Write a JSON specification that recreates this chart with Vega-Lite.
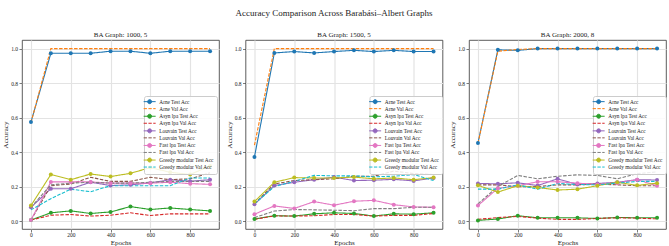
{
  "$schema": "https://vega.github.io/schema/vega-lite/v6.json",
  "padding": {"left": 1, "right": 1, "top": 8, "bottom": 0},
  "background": "white",
  "title": {"text": "Accuracy Comparison Across Barabási–Albert Graphs", "font": "Liberation Serif", "fontSize": 9, "fontWeight": "normal", "anchor": "middle", "offset": 13, "color": "#222"},
  "config": {
    "font": "Liberation Serif",
    "view": {"stroke": "#333", "strokeWidth": 0.8},
    "axis": {"labelFont": "Liberation Serif", "titleFont": "Liberation Serif", "labelFontSize": 5.5, "titleFontSize": 7, "titleFontWeight": "normal", "labelColor": "#222", "titleColor": "#222", "tickColor": "#444", "tickSize": 3, "tickWidth": 0.7, "domain": false, "gridColor": "#e3e3e3", "gridWidth": 1.2, "labelPadding": 1.5, "titlePadding": 2},
    "axisX": {"titlePadding": 0, "labelPadding": 0.5},
    "title": {"font": "Liberation Serif", "fontSize": 7, "fontWeight": "normal", "offset": 2, "color": "#222"},
    "legend": {"labelFont": "Liberation Serif"}
  },
  "spacing": 4.5,
  "resolve": {"scale": {"color": "independent"}, "legend": {"color": "independent"}},
  "datasets": {
    "p1": [
      {"s":"Arne Test Acc","e":0,"a":0.574},{"s":"Arne Test Acc","e":100,"a":0.973},{"s":"Arne Test Acc","e":200,"a":0.973},{"s":"Arne Test Acc","e":300,"a":0.973},{"s":"Arne Test Acc","e":400,"a":0.985},{"s":"Arne Test Acc","e":500,"a":0.985},{"s":"Arne Test Acc","e":600,"a":0.973},{"s":"Arne Test Acc","e":700,"a":0.985},{"s":"Arne Test Acc","e":800,"a":0.985},{"s":"Arne Test Acc","e":900,"a":0.985},
      {"s":"Arne Val Acc","e":0,"a":0.57},{"s":"Arne Val Acc","e":100,"a":1},{"s":"Arne Val Acc","e":200,"a":1},{"s":"Arne Val Acc","e":300,"a":1},{"s":"Arne Val Acc","e":400,"a":1},{"s":"Arne Val Acc","e":500,"a":1},{"s":"Arne Val Acc","e":600,"a":1},{"s":"Arne Val Acc","e":700,"a":1},{"s":"Arne Val Acc","e":800,"a":1},{"s":"Arne Val Acc","e":900,"a":1},
      {"s":"Asyn lpa Test Acc","e":0,"a":0.006},{"s":"Asyn lpa Test Acc","e":100,"a":0.048},{"s":"Asyn lpa Test Acc","e":200,"a":0.059},{"s":"Asyn lpa Test Acc","e":300,"a":0.044},{"s":"Asyn lpa Test Acc","e":400,"a":0.053},{"s":"Asyn lpa Test Acc","e":500,"a":0.084},{"s":"Asyn lpa Test Acc","e":600,"a":0.067},{"s":"Asyn lpa Test Acc","e":700,"a":0.076},{"s":"Asyn lpa Test Acc","e":800,"a":0.067},{"s":"Asyn lpa Test Acc","e":900,"a":0.059},
      {"s":"Asyn lpa Val Acc","e":0,"a":0.006},{"s":"Asyn lpa Val Acc","e":100,"a":0.034},{"s":"Asyn lpa Val Acc","e":200,"a":0.038},{"s":"Asyn lpa Val Acc","e":300,"a":0.029},{"s":"Asyn lpa Val Acc","e":400,"a":0.034},{"s":"Asyn lpa Val Acc","e":500,"a":0.048},{"s":"Asyn lpa Val Acc","e":600,"a":0.032},{"s":"Asyn lpa Val Acc","e":700,"a":0.042},{"s":"Asyn lpa Val Acc","e":800,"a":0.042},{"s":"Asyn lpa Val Acc","e":900,"a":0.042},
      {"s":"Louvain Test Acc","e":0,"a":0.08},{"s":"Louvain Test Acc","e":100,"a":0.187},{"s":"Louvain Test Acc","e":200,"a":0.187},{"s":"Louvain Test Acc","e":300,"a":0.225},{"s":"Louvain Test Acc","e":400,"a":0.206},{"s":"Louvain Test Acc","e":500,"a":0.21},{"s":"Louvain Test Acc","e":600,"a":0.221},{"s":"Louvain Test Acc","e":700,"a":0.24},{"s":"Louvain Test Acc","e":800,"a":0.231},{"s":"Louvain Test Acc","e":900,"a":0.24},
      {"s":"Louvain Val Acc","e":0,"a":0.006},{"s":"Louvain Val Acc","e":100,"a":0.205},{"s":"Louvain Val Acc","e":200,"a":0.215},{"s":"Louvain Val Acc","e":300,"a":0.254},{"s":"Louvain Val Acc","e":400,"a":0.23},{"s":"Louvain Val Acc","e":500,"a":0.23},{"s":"Louvain Val Acc","e":600,"a":0.254},{"s":"Louvain Val Acc","e":700,"a":0.24},{"s":"Louvain Val Acc","e":800,"a":0.245},{"s":"Louvain Val Acc","e":900,"a":0.28},
      {"s":"Fast lpa Test Acc","e":0,"a":0.006},{"s":"Fast lpa Test Acc","e":100,"a":0.227},{"s":"Fast lpa Test Acc","e":200,"a":0.227},{"s":"Fast lpa Test Acc","e":300,"a":0.227},{"s":"Fast lpa Test Acc","e":400,"a":0.22},{"s":"Fast lpa Test Acc","e":500,"a":0.22},{"s":"Fast lpa Test Acc","e":600,"a":0.22},{"s":"Fast lpa Test Acc","e":700,"a":0.225},{"s":"Fast lpa Test Acc","e":800,"a":0.217},{"s":"Fast lpa Test Acc","e":900,"a":0.213},
      {"s":"Fast lpa Val Acc","e":0,"a":0.08},{"s":"Fast lpa Val Acc","e":100,"a":0.21},{"s":"Fast lpa Val Acc","e":200,"a":0.22},{"s":"Fast lpa Val Acc","e":300,"a":0.225},{"s":"Fast lpa Val Acc","e":400,"a":0.22},{"s":"Fast lpa Val Acc","e":500,"a":0.22},{"s":"Fast lpa Val Acc","e":600,"a":0.225},{"s":"Fast lpa Val Acc","e":700,"a":0.23},{"s":"Fast lpa Val Acc","e":800,"a":0.23},{"s":"Fast lpa Val Acc","e":900,"a":0.23},
      {"s":"Greedy modular Test Acc","e":0,"a":0.09},{"s":"Greedy modular Test Acc","e":100,"a":0.27},{"s":"Greedy modular Test Acc","e":200,"a":0.24},{"s":"Greedy modular Test Acc","e":300,"a":0.273},{"s":"Greedy modular Test Acc","e":400,"a":0.258},{"s":"Greedy modular Test Acc","e":500,"a":0.277},{"s":"Greedy modular Test Acc","e":600,"a":0.31},{"s":"Greedy modular Test Acc","e":700,"a":0.283},{"s":"Greedy modular Test Acc","e":800,"a":0.27},{"s":"Greedy modular Test Acc","e":900,"a":0.32},
      {"s":"Greedy modular Val Acc","e":0,"a":0.065},{"s":"Greedy modular Val Acc","e":100,"a":0.13},{"s":"Greedy modular Val Acc","e":200,"a":0.185},{"s":"Greedy modular Val Acc","e":300,"a":0.17},{"s":"Greedy modular Val Acc","e":400,"a":0.205},{"s":"Greedy modular Val Acc","e":500,"a":0.205},{"s":"Greedy modular Val Acc","e":600,"a":0.205},{"s":"Greedy modular Val Acc","e":700,"a":0.205},{"s":"Greedy modular Val Acc","e":800,"a":0.25},{"s":"Greedy modular Val Acc","e":900,"a":0.25}
    ],
    "p2": [
      {"s":"Arne Test Acc","e":0,"a":0.372},{"s":"Arne Test Acc","e":100,"a":0.975},{"s":"Arne Test Acc","e":200,"a":0.983},{"s":"Arne Test Acc","e":300,"a":0.975},{"s":"Arne Test Acc","e":400,"a":0.983},{"s":"Arne Test Acc","e":500,"a":0.99},{"s":"Arne Test Acc","e":600,"a":0.983},{"s":"Arne Test Acc","e":700,"a":0.99},{"s":"Arne Test Acc","e":800,"a":0.983},{"s":"Arne Test Acc","e":900,"a":0.983},
      {"s":"Arne Val Acc","e":0,"a":0.44},{"s":"Arne Val Acc","e":100,"a":1},{"s":"Arne Val Acc","e":200,"a":1},{"s":"Arne Val Acc","e":300,"a":1},{"s":"Arne Val Acc","e":400,"a":1},{"s":"Arne Val Acc","e":500,"a":1},{"s":"Arne Val Acc","e":600,"a":1},{"s":"Arne Val Acc","e":700,"a":1},{"s":"Arne Val Acc","e":800,"a":1},{"s":"Arne Val Acc","e":900,"a":1},
      {"s":"Asyn lpa Test Acc","e":0,"a":0.012},{"s":"Asyn lpa Test Acc","e":100,"a":0.031},{"s":"Asyn lpa Test Acc","e":200,"a":0.029},{"s":"Asyn lpa Test Acc","e":300,"a":0.042},{"s":"Asyn lpa Test Acc","e":400,"a":0.048},{"s":"Asyn lpa Test Acc","e":500,"a":0.044},{"s":"Asyn lpa Test Acc","e":600,"a":0.029},{"s":"Asyn lpa Test Acc","e":700,"a":0.042},{"s":"Asyn lpa Test Acc","e":800,"a":0.04},{"s":"Asyn lpa Test Acc","e":900,"a":0.048},
      {"s":"Asyn lpa Val Acc","e":0,"a":0.01},{"s":"Asyn lpa Val Acc","e":100,"a":0.03},{"s":"Asyn lpa Val Acc","e":200,"a":0.029},{"s":"Asyn lpa Val Acc","e":300,"a":0.031},{"s":"Asyn lpa Val Acc","e":400,"a":0.038},{"s":"Asyn lpa Val Acc","e":500,"a":0.038},{"s":"Asyn lpa Val Acc","e":600,"a":0.029},{"s":"Asyn lpa Val Acc","e":700,"a":0.033},{"s":"Asyn lpa Val Acc","e":800,"a":0.033},{"s":"Asyn lpa Val Acc","e":900,"a":0.044},
      {"s":"Louvain Test Acc","e":0,"a":0.097},{"s":"Louvain Test Acc","e":100,"a":0.206},{"s":"Louvain Test Acc","e":200,"a":0.225},{"s":"Louvain Test Acc","e":300,"a":0.24},{"s":"Louvain Test Acc","e":400,"a":0.255},{"s":"Louvain Test Acc","e":500,"a":0.235},{"s":"Louvain Test Acc","e":600,"a":0.237},{"s":"Louvain Test Acc","e":700,"a":0.242},{"s":"Louvain Test Acc","e":800,"a":0.233},{"s":"Louvain Test Acc","e":900,"a":0.25},
      {"s":"Louvain Val Acc","e":0,"a":0.1},{"s":"Louvain Val Acc","e":100,"a":0.215},{"s":"Louvain Val Acc","e":200,"a":0.235},{"s":"Louvain Val Acc","e":300,"a":0.24},{"s":"Louvain Val Acc","e":400,"a":0.245},{"s":"Louvain Val Acc","e":500,"a":0.26},{"s":"Louvain Val Acc","e":600,"a":0.26},{"s":"Louvain Val Acc","e":700,"a":0.29},{"s":"Louvain Val Acc","e":800,"a":0.275},{"s":"Louvain Val Acc","e":900,"a":0.27},
      {"s":"Fast lpa Test Acc","e":0,"a":0.04},{"s":"Fast lpa Test Acc","e":100,"a":0.088},{"s":"Fast lpa Test Acc","e":200,"a":0.073},{"s":"Fast lpa Test Acc","e":300,"a":0.113},{"s":"Fast lpa Test Acc","e":400,"a":0.092},{"s":"Fast lpa Test Acc","e":500,"a":0.115},{"s":"Fast lpa Test Acc","e":600,"a":0.12},{"s":"Fast lpa Test Acc","e":700,"a":0.095},{"s":"Fast lpa Test Acc","e":800,"a":0.082},{"s":"Fast lpa Test Acc","e":900,"a":0.08},
      {"s":"Fast lpa Val Acc","e":0,"a":0.02},{"s":"Fast lpa Val Acc","e":100,"a":0.058},{"s":"Fast lpa Val Acc","e":200,"a":0.067},{"s":"Fast lpa Val Acc","e":300,"a":0.065},{"s":"Fast lpa Val Acc","e":400,"a":0.063},{"s":"Fast lpa Val Acc","e":500,"a":0.06},{"s":"Fast lpa Val Acc","e":600,"a":0.072},{"s":"Fast lpa Val Acc","e":700,"a":0.072},{"s":"Fast lpa Val Acc","e":800,"a":0.08},{"s":"Fast lpa Val Acc","e":900,"a":0.08},
      {"s":"Greedy modular Test Acc","e":0,"a":0.113},{"s":"Greedy modular Test Acc","e":100,"a":0.225},{"s":"Greedy modular Test Acc","e":200,"a":0.252},{"s":"Greedy modular Test Acc","e":300,"a":0.25},{"s":"Greedy modular Test Acc","e":400,"a":0.25},{"s":"Greedy modular Test Acc","e":500,"a":0.255},{"s":"Greedy modular Test Acc","e":600,"a":0.245},{"s":"Greedy modular Test Acc","e":700,"a":0.25},{"s":"Greedy modular Test Acc","e":800,"a":0.24},{"s":"Greedy modular Test Acc","e":900,"a":0.252},
      {"s":"Greedy modular Val Acc","e":0,"a":0.1},{"s":"Greedy modular Val Acc","e":100,"a":0.2},{"s":"Greedy modular Val Acc","e":200,"a":0.23},{"s":"Greedy modular Val Acc","e":300,"a":0.265},{"s":"Greedy modular Val Acc","e":400,"a":0.262},{"s":"Greedy modular Val Acc","e":500,"a":0.262},{"s":"Greedy modular Val Acc","e":600,"a":0.257},{"s":"Greedy modular Val Acc","e":700,"a":0.26},{"s":"Greedy modular Val Acc","e":800,"a":0.27},{"s":"Greedy modular Val Acc","e":900,"a":0.235}
    ],
    "p3": [
      {"s":"Arne Test Acc","e":0,"a":0.452},{"s":"Arne Test Acc","e":100,"a":0.993},{"s":"Arne Test Acc","e":200,"a":0.99},{"s":"Arne Test Acc","e":300,"a":1},{"s":"Arne Test Acc","e":400,"a":1},{"s":"Arne Test Acc","e":500,"a":1},{"s":"Arne Test Acc","e":600,"a":1},{"s":"Arne Test Acc","e":700,"a":1},{"s":"Arne Test Acc","e":800,"a":1},{"s":"Arne Test Acc","e":900,"a":1},
      {"s":"Arne Val Acc","e":0,"a":0.45},{"s":"Arne Val Acc","e":100,"a":0.985},{"s":"Arne Val Acc","e":200,"a":0.995},{"s":"Arne Val Acc","e":300,"a":1},{"s":"Arne Val Acc","e":400,"a":1},{"s":"Arne Val Acc","e":500,"a":1},{"s":"Arne Val Acc","e":600,"a":1},{"s":"Arne Val Acc","e":700,"a":1},{"s":"Arne Val Acc","e":800,"a":1},{"s":"Arne Val Acc","e":900,"a":1},
      {"s":"Asyn lpa Test Acc","e":0,"a":0.004},{"s":"Asyn lpa Test Acc","e":100,"a":0.012},{"s":"Asyn lpa Test Acc","e":200,"a":0.031},{"s":"Asyn lpa Test Acc","e":300,"a":0.019},{"s":"Asyn lpa Test Acc","e":400,"a":0.019},{"s":"Asyn lpa Test Acc","e":500,"a":0.019},{"s":"Asyn lpa Test Acc","e":600,"a":0.015},{"s":"Asyn lpa Test Acc","e":700,"a":0.021},{"s":"Asyn lpa Test Acc","e":800,"a":0.019},{"s":"Asyn lpa Test Acc","e":900,"a":0.019},
      {"s":"Asyn lpa Val Acc","e":0,"a":0.01},{"s":"Asyn lpa Val Acc","e":100,"a":0.02},{"s":"Asyn lpa Val Acc","e":200,"a":0.027},{"s":"Asyn lpa Val Acc","e":300,"a":0.017},{"s":"Asyn lpa Val Acc","e":400,"a":0.01},{"s":"Asyn lpa Val Acc","e":500,"a":0.01},{"s":"Asyn lpa Val Acc","e":600,"a":0.015},{"s":"Asyn lpa Val Acc","e":700,"a":0.019},{"s":"Asyn lpa Val Acc","e":800,"a":0.017},{"s":"Asyn lpa Val Acc","e":900,"a":0.013},
      {"s":"Louvain Test Acc","e":0,"a":0.218},{"s":"Louvain Test Acc","e":100,"a":0.216},{"s":"Louvain Test Acc","e":200,"a":0.222},{"s":"Louvain Test Acc","e":300,"a":0.206},{"s":"Louvain Test Acc","e":400,"a":0.245},{"s":"Louvain Test Acc","e":500,"a":0.212},{"s":"Louvain Test Acc","e":600,"a":0.218},{"s":"Louvain Test Acc","e":700,"a":0.225},{"s":"Louvain Test Acc","e":800,"a":0.24},{"s":"Louvain Test Acc","e":900,"a":0.238},
      {"s":"Louvain Val Acc","e":0,"a":0.21},{"s":"Louvain Val Acc","e":100,"a":0.21},{"s":"Louvain Val Acc","e":200,"a":0.2},{"s":"Louvain Val Acc","e":300,"a":0.2},{"s":"Louvain Val Acc","e":400,"a":0.21},{"s":"Louvain Val Acc","e":500,"a":0.21},{"s":"Louvain Val Acc","e":600,"a":0.215},{"s":"Louvain Val Acc","e":700,"a":0.21},{"s":"Louvain Val Acc","e":800,"a":0.205},{"s":"Louvain Val Acc","e":900,"a":0.205},
      {"s":"Fast lpa Test Acc","e":0,"a":0.09},{"s":"Fast lpa Test Acc","e":100,"a":0.19},{"s":"Fast lpa Test Acc","e":200,"a":0.205},{"s":"Fast lpa Test Acc","e":300,"a":0.228},{"s":"Fast lpa Test Acc","e":400,"a":0.228},{"s":"Fast lpa Test Acc","e":500,"a":0.22},{"s":"Fast lpa Test Acc","e":600,"a":0.212},{"s":"Fast lpa Test Acc","e":700,"a":0.22},{"s":"Fast lpa Test Acc","e":800,"a":0.24},{"s":"Fast lpa Test Acc","e":900,"a":0.205},
      {"s":"Fast lpa Val Acc","e":0,"a":0.1},{"s":"Fast lpa Val Acc","e":100,"a":0.2},{"s":"Fast lpa Val Acc","e":200,"a":0.265},{"s":"Fast lpa Val Acc","e":300,"a":0.245},{"s":"Fast lpa Val Acc","e":400,"a":0.26},{"s":"Fast lpa Val Acc","e":500,"a":0.268},{"s":"Fast lpa Val Acc","e":600,"a":0.265},{"s":"Fast lpa Val Acc","e":700,"a":0.245},{"s":"Fast lpa Val Acc","e":800,"a":0.275},{"s":"Fast lpa Val Acc","e":900,"a":0.285},
      {"s":"Greedy modular Test Acc","e":0,"a":0.207},{"s":"Greedy modular Test Acc","e":100,"a":0.168},{"s":"Greedy modular Test Acc","e":200,"a":0.205},{"s":"Greedy modular Test Acc","e":300,"a":0.195},{"s":"Greedy modular Test Acc","e":400,"a":0.18},{"s":"Greedy modular Test Acc","e":500,"a":0.185},{"s":"Greedy modular Test Acc","e":600,"a":0.205},{"s":"Greedy modular Test Acc","e":700,"a":0.225},{"s":"Greedy modular Test Acc","e":800,"a":0.207},{"s":"Greedy modular Test Acc","e":900,"a":0.22},
      {"s":"Greedy modular Val Acc","e":0,"a":0.185},{"s":"Greedy modular Val Acc","e":100,"a":0.185},{"s":"Greedy modular Val Acc","e":200,"a":0.21},{"s":"Greedy modular Val Acc","e":300,"a":0.185},{"s":"Greedy modular Val Acc","e":400,"a":0.218},{"s":"Greedy modular Val Acc","e":500,"a":0.212},{"s":"Greedy modular Val Acc","e":600,"a":0.21},{"s":"Greedy modular Val Acc","e":700,"a":0.22},{"s":"Greedy modular Val Acc","e":800,"a":0.23},{"s":"Greedy modular Val Acc","e":900,"a":0.23}
    ]
  },
  "hconcat": [
    {
      "width": 197, "height": 189,
      "title": "BA Graph: 1000, 5",
      "data": {"name": "p1"},
      "encoding": {
        "x": {"field": "e", "type": "quantitative", "scale": {"domain": [-45, 945], "nice": false, "zero": false}, "axis": {"values": [0, 200, 400, 600, 800], "title": "Epochs"}},
        "y": {"field": "a", "type": "quantitative", "scale": {"domain": [-0.046, 1.05], "nice": false, "zero": false}, "axis": {"values": [0, 0.2, 0.4, 0.6, 0.8, 1], "format": ".1f", "title": "Accuracy"}},
        "color": {"field": "s", "type": "nominal",
          "scale": {"domain": ["Arne Test Acc","Arne Val Acc","Asyn lpa Test Acc","Asyn lpa Val Acc","Louvain Test Acc","Louvain Val Acc","Fast lpa Test Acc","Fast lpa Val Acc","Greedy modular Test Acc","Greedy modular Val Acc"], "range": ["#1f77b4","#ff7f0e","#2ca02c","#d62728","#9467bd","#8c564b","#e377c2","#7f7f7f","#bcbd22","#17becf"]},
          "legend": {"title": null, "orient": "none", "legendX": 122, "legendY": 56, "labelFontSize": 5.3, "labelFont": "Liberation Serif", "labelColor": "#222", "symbolSize": 16, "symbolStrokeWidth": 1, "labelOffset": 7, "rowPadding": -0.4, "padding": 3, "fillColor": "rgba(255,255,255,0.85)", "strokeColor": "#cccccc", "cornerRadius": 2, "labelLimit": 200,
            "encode": {"symbols": {"update": {
              "shape": [{"test": "indexof(datum.value,'Val')>=0", "value": "M-3,0H-1.35M-0.6,0H1.05M1.8,0H3"}, {"value": "M-3,0H3M-1,0A1,1,0,1,1,1,0A1,1,0,1,1,-1,0Z"}],
              "fill": [{"test": "datum.value==='Arne Test Acc'", "value": "#1f77b4"}, {"test": "datum.value==='Asyn lpa Test Acc'", "value": "#2ca02c"}, {"test": "datum.value==='Louvain Test Acc'", "value": "#9467bd"}, {"test": "datum.value==='Fast lpa Test Acc'", "value": "#e377c2"}, {"test": "datum.value==='Greedy modular Test Acc'", "value": "#bcbd22"}, {"value": "transparent"}],
              "stroke": [{"test": "datum.value==='Arne Test Acc'", "value": "#1f77b4"}, {"test": "datum.value==='Arne Val Acc'", "value": "#ff7f0e"}, {"test": "datum.value==='Asyn lpa Test Acc'", "value": "#2ca02c"}, {"test": "datum.value==='Asyn lpa Val Acc'", "value": "#d62728"}, {"test": "datum.value==='Louvain Test Acc'", "value": "#9467bd"}, {"test": "datum.value==='Louvain Val Acc'", "value": "#8c564b"}, {"test": "datum.value==='Fast lpa Test Acc'", "value": "#e377c2"}, {"test": "datum.value==='Fast lpa Val Acc'", "value": "#7f7f7f"}, {"test": "datum.value==='Greedy modular Test Acc'", "value": "#bcbd22"}, {"value": "#17becf"}],
              "strokeDash": {"value": []},
              "opacity": {"value": 1}
            }}}
          }
        }
      },
      "layer": [
        {"mark": {"type": "line", "strokeWidth": 1.1},
         "encoding": {"strokeDash": {"condition": {"test": "indexof(datum.s,'Val')>=0", "value": [3.5, 1.5]}, "value": [1, 0]}}},
        {"transform": [{"filter": "indexof(datum.s,'Test')>=0"}],
         "mark": {"type": "point", "filled": true, "size": 16, "opacity": 1}}
      ]
    },
    {
      "width": 197, "height": 189,
      "title": "BA Graph: 1500, 5",
      "data": {"name": "p2"},
      "encoding": {
        "x": {"field": "e", "type": "quantitative", "scale": {"domain": [-45, 945], "nice": false, "zero": false}, "axis": {"values": [0, 200, 400, 600, 800], "title": "Epochs"}},
        "y": {"field": "a", "type": "quantitative", "scale": {"domain": [-0.046, 1.05], "nice": false, "zero": false}, "axis": {"values": [0, 0.2, 0.4, 0.6, 0.8, 1], "format": ".1f", "title": "Accuracy"}},
        "color": {"field": "s", "type": "nominal",
          "scale": {"domain": ["Arne Test Acc","Arne Val Acc","Asyn lpa Test Acc","Asyn lpa Val Acc","Louvain Test Acc","Louvain Val Acc","Fast lpa Test Acc","Fast lpa Val Acc","Greedy modular Test Acc","Greedy modular Val Acc"], "range": ["#1f77b4","#ff7f0e","#2ca02c","#d62728","#9467bd","#8c564b","#e377c2","#7f7f7f","#bcbd22","#17becf"]},
          "legend": {"title": null, "orient": "none", "legendX": 124, "legendY": 56, "labelFontSize": 5.3, "labelFont": "Liberation Serif", "labelColor": "#222", "symbolSize": 16, "symbolStrokeWidth": 1, "labelOffset": 7, "rowPadding": -0.4, "padding": 3, "fillColor": "rgba(255,255,255,0.85)", "strokeColor": "#cccccc", "cornerRadius": 2, "labelLimit": 200,
            "encode": {"symbols": {"update": {
              "shape": [{"test": "indexof(datum.value,'Val')>=0", "value": "M-3,0H-1.35M-0.6,0H1.05M1.8,0H3"}, {"value": "M-3,0H3M-1,0A1,1,0,1,1,1,0A1,1,0,1,1,-1,0Z"}],
              "fill": [{"test": "datum.value==='Arne Test Acc'", "value": "#1f77b4"}, {"test": "datum.value==='Asyn lpa Test Acc'", "value": "#2ca02c"}, {"test": "datum.value==='Louvain Test Acc'", "value": "#9467bd"}, {"test": "datum.value==='Fast lpa Test Acc'", "value": "#e377c2"}, {"test": "datum.value==='Greedy modular Test Acc'", "value": "#bcbd22"}, {"value": "transparent"}],
              "stroke": [{"test": "datum.value==='Arne Test Acc'", "value": "#1f77b4"}, {"test": "datum.value==='Arne Val Acc'", "value": "#ff7f0e"}, {"test": "datum.value==='Asyn lpa Test Acc'", "value": "#2ca02c"}, {"test": "datum.value==='Asyn lpa Val Acc'", "value": "#d62728"}, {"test": "datum.value==='Louvain Test Acc'", "value": "#9467bd"}, {"test": "datum.value==='Louvain Val Acc'", "value": "#8c564b"}, {"test": "datum.value==='Fast lpa Test Acc'", "value": "#e377c2"}, {"test": "datum.value==='Fast lpa Val Acc'", "value": "#7f7f7f"}, {"test": "datum.value==='Greedy modular Test Acc'", "value": "#bcbd22"}, {"value": "#17becf"}],
              "strokeDash": {"value": []},
              "opacity": {"value": 1}
            }}}
          }
        }
      },
      "layer": [
        {"mark": {"type": "line", "strokeWidth": 1.1},
         "encoding": {"strokeDash": {"condition": {"test": "indexof(datum.s,'Val')>=0", "value": [3.5, 1.5]}, "value": [1, 0]}}},
        {"transform": [{"filter": "indexof(datum.s,'Test')>=0"}],
         "mark": {"type": "point", "filled": true, "size": 16, "opacity": 1}}
      ]
    },
    {
      "width": 197, "height": 189,
      "title": "BA Graph: 2000, 8",
      "data": {"name": "p3"},
      "encoding": {
        "x": {"field": "e", "type": "quantitative", "scale": {"domain": [-45, 945], "nice": false, "zero": false}, "axis": {"values": [0, 200, 400, 600, 800], "title": "Epochs"}},
        "y": {"field": "a", "type": "quantitative", "scale": {"domain": [-0.046, 1.05], "nice": false, "zero": false}, "axis": {"values": [0, 0.2, 0.4, 0.6, 0.8, 1], "format": ".1f", "title": "Accuracy"}},
        "color": {"field": "s", "type": "nominal",
          "scale": {"domain": ["Arne Test Acc","Arne Val Acc","Asyn lpa Test Acc","Asyn lpa Val Acc","Louvain Test Acc","Louvain Val Acc","Fast lpa Test Acc","Fast lpa Val Acc","Greedy modular Test Acc","Greedy modular Val Acc"], "range": ["#1f77b4","#ff7f0e","#2ca02c","#d62728","#9467bd","#8c564b","#e377c2","#7f7f7f","#bcbd22","#17becf"]},
          "legend": {"title": null, "orient": "none", "legendX": 124, "legendY": 56, "labelFontSize": 5.3, "labelFont": "Liberation Serif", "labelColor": "#222", "symbolSize": 16, "symbolStrokeWidth": 1, "labelOffset": 7, "rowPadding": -0.4, "padding": 3, "fillColor": "rgba(255,255,255,0.85)", "strokeColor": "#cccccc", "cornerRadius": 2, "labelLimit": 200,
            "encode": {"symbols": {"update": {
              "shape": [{"test": "indexof(datum.value,'Val')>=0", "value": "M-3,0H-1.35M-0.6,0H1.05M1.8,0H3"}, {"value": "M-3,0H3M-1,0A1,1,0,1,1,1,0A1,1,0,1,1,-1,0Z"}],
              "fill": [{"test": "datum.value==='Arne Test Acc'", "value": "#1f77b4"}, {"test": "datum.value==='Asyn lpa Test Acc'", "value": "#2ca02c"}, {"test": "datum.value==='Louvain Test Acc'", "value": "#9467bd"}, {"test": "datum.value==='Fast lpa Test Acc'", "value": "#e377c2"}, {"test": "datum.value==='Greedy modular Test Acc'", "value": "#bcbd22"}, {"value": "transparent"}],
              "stroke": [{"test": "datum.value==='Arne Test Acc'", "value": "#1f77b4"}, {"test": "datum.value==='Arne Val Acc'", "value": "#ff7f0e"}, {"test": "datum.value==='Asyn lpa Test Acc'", "value": "#2ca02c"}, {"test": "datum.value==='Asyn lpa Val Acc'", "value": "#d62728"}, {"test": "datum.value==='Louvain Test Acc'", "value": "#9467bd"}, {"test": "datum.value==='Louvain Val Acc'", "value": "#8c564b"}, {"test": "datum.value==='Fast lpa Test Acc'", "value": "#e377c2"}, {"test": "datum.value==='Fast lpa Val Acc'", "value": "#7f7f7f"}, {"test": "datum.value==='Greedy modular Test Acc'", "value": "#bcbd22"}, {"value": "#17becf"}],
              "strokeDash": {"value": []},
              "opacity": {"value": 1}
            }}}
          }
        }
      },
      "layer": [
        {"mark": {"type": "line", "strokeWidth": 1.1},
         "encoding": {"strokeDash": {"condition": {"test": "indexof(datum.s,'Val')>=0", "value": [3.5, 1.5]}, "value": [1, 0]}}},
        {"transform": [{"filter": "indexof(datum.s,'Test')>=0"}],
         "mark": {"type": "point", "filled": true, "size": 16, "opacity": 1}}
      ]
    }
  ]
}
